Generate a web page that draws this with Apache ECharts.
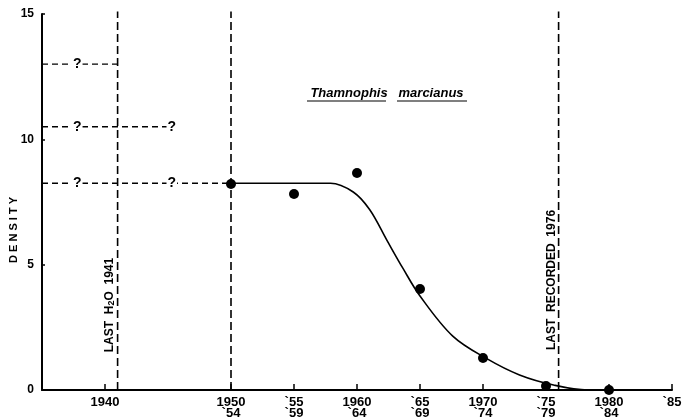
<!DOCTYPE html>
<html>
<head>
<meta charset="utf-8">
<script src="https://cdn.jsdelivr.net/npm/echarts@6/dist/echarts.min.js"></script>
<style>html,body{margin:0;padding:0;background:#fff}#c{width:691px;height:417px}</style>
</head>
<body>
<div id="c"></div>
<script>
// Observed densities (period start year, density)
const pointYears = [1950, 1955, 1960, 1965, 1970, 1975, 1980];
const pointDensity = [8.22, 7.82, 8.66, 4.03, 1.28, 0.16, 0];
// Hand-drawn trend curve
const curveYears = [1950, 1957.9, 1959.7, 1961.0, 1962.4, 1963.65, 1965.0, 1967.6, 1970.3, 1972.9, 1975.6, 1978.3, 1980];
const curveDensity = [8.25, 8.25, 7.9, 7.2, 5.95, 4.85, 3.75, 2.15, 1.25, 0.6, 0.2, 0.0, 0.0];
// X-axis ticks and labels
const xTickValues = [1940, 1950, 1955, 1960, 1965, 1970, 1975, 1980, 1985];
const xTickLabels = ['1940', '1950\n`54', '`55\n`59', '1960\n`64', '`65\n`69', '1970\n`74', '`75\n`79', '1980\n`84', '`85'];
const yTickValues = [0, 5, 10, 15];
// Vertical event lines
const eventYears = [1941, 1950, 1976];
// Speculative (?) density levels before 1950 and where their dashes end
const guideLevels = [13, 10.5, 8.25];
const guideEnds = [1941, 1945.3, 1950];
const qMarkYears = [[1937.8], [1937.8, 1945.3], [1937.8, 1945.3]];
// Vertical annotation texts
const annotations = [[1940.4, 3.39, 'LAST  H{s|2}O  1941'], [1975.45, 4.39, 'LAST  RECORDED  1976']];

const font = 'Liberation Sans, Arial, sans-serif';
const ink = '#000';
const chart = echarts.init(document.getElementById('c'), null, {renderer: 'canvas'});

const series = [];
eventYears.forEach(function (yr) {
  series.push({
    type: 'line', data: [[yr, 0], [yr, 15.1]], symbol: 'none', clip: false, silent: true,
    lineStyle: {color: ink, width: 1.6, type: [8, 4]}, z: 2
  });
});
guideLevels.forEach(function (lv, i) {
  series.push({
    type: 'line', data: [[1935, lv], [guideEnds[i], lv]], symbol: 'none', silent: true,
    lineStyle: {color: ink, width: 1.4, type: [6, 4]}, z: 2
  });
});
const qData = [];
guideLevels.forEach(function (lv, i) {
  qMarkYears[i].forEach(function (yr) { qData.push([yr, lv]); });
});
series.push({
  type: 'scatter', data: qData, symbolSize: 0, silent: true, z: 5, itemStyle: {opacity: 1, color: ink},
  label: {show: true, position: 'inside', formatter: '?', color: ink, fontFamily: font,
    fontSize: 14, fontWeight: 'bold', backgroundColor: '#fff', padding: [0, 1], textBorderWidth: 0}
});
series.push({
  type: 'scatter', data: annotations, symbolSize: 0, silent: true, z: 5, itemStyle: {opacity: 1, color: ink},
  label: {show: true, position: 'inside', rotate: 90, formatter: function (p) { return p.value[2]; },
    color: ink, fontFamily: font, fontSize: 12, fontWeight: 'bold', textBorderWidth: 0,
    rich: {s: {fontSize: 9, fontWeight: 'bold', fontFamily: font, color: ink, padding: [3, 0, 0, 0]}}}
});
series.push({
  type: 'line', data: curveYears.map(function (y, i) { return [y, curveDensity[i]]; }),
  symbol: 'none', smooth: 0.35, lineStyle: {color: ink, width: 1.6}, z: 3
});
series.push({
  type: 'scatter', data: pointYears.map(function (y, i) { return [y, pointDensity[i]]; }),
  symbol: 'circle', symbolSize: 10, itemStyle: {color: ink, opacity: 1}, z: 6
});

chart.setOption({
  animation: false,
  backgroundColor: '#fff',
  grid: {left: 42, right: 19, top: 14, bottom: 27, containLabel: false, outerBoundsMode: 'none'},
  xAxis: {
    type: 'value', min: 1935, max: 1985, splitLine: {show: false},
    axisLine: {show: true, lineStyle: {color: ink, width: 2}},
    axisTick: {show: true, inside: true, length: 6, customValues: xTickValues, lineStyle: {color: ink, width: 1.5}},
    axisLabel: {show: true, customValues: xTickValues, margin: 7, color: ink, fontFamily: font,
      fontSize: 13, fontWeight: 'bold', lineHeight: 11,
      formatter: function (v) { const i = xTickValues.indexOf(Math.round(v)); return i >= 0 ? xTickLabels[i] : ''; }}
  },
  yAxis: {
    type: 'value', min: 0, max: 15, splitLine: {show: false},
    axisLine: {show: true, lineStyle: {color: ink, width: 2}},
    axisTick: {show: true, inside: true, length: 3, customValues: yTickValues, lineStyle: {color: ink, width: 1.5}},
    axisLabel: {show: true, customValues: yTickValues, margin: 8, color: ink, fontFamily: font,
      fontSize: 12, fontWeight: 'bold'}
  },
  graphic: [
    {type: 'text', x: 14, y: 230, rotation: Math.PI / 2,
      style: {text: 'D E N S I T Y', fill: ink, font: 'bold 11px ' + font, align: 'center', verticalAlign: 'middle'}},
    {type: 'text', x: 387, y: 93,
      style: {text: 'Thamnophis   marcianus', fill: ink, font: 'italic bold 13px ' + font, align: 'center', verticalAlign: 'middle'}},
    {type: 'line', shape: {x1: 307, y1: 101, x2: 386, y2: 101}, style: {stroke: ink, lineWidth: 1.2}},
    {type: 'line', shape: {x1: 397, y1: 101, x2: 467, y2: 101}, style: {stroke: ink, lineWidth: 1.2}}
  ],
  series: series
});
</script>
</body>
</html>
